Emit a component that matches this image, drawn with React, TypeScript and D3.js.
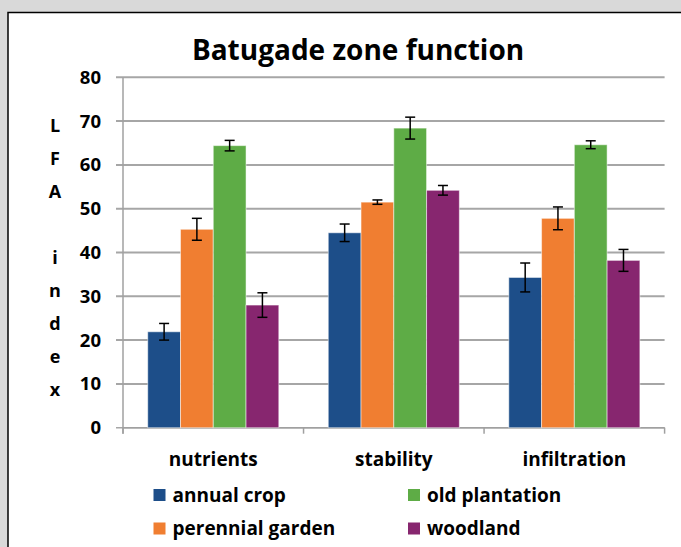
import React from 'react';
import * as d3 from 'd3';

// chart values
const categories = ['nutrients', 'stability', 'infiltration'];
const seriesNames = ['annual crop', 'perennial garden', 'old plantation', 'woodland'];
const annualCrop = [21.9, 44.5, 34.3];
const perennialGarden = [45.3, 51.5, 47.8];
const oldPlantation = [64.4, 68.4, 64.6];
const woodland = [28.0, 54.2, 38.2];
const annualCropErr = [1.9, 2.0, 3.3];
const perennialGardenErr = [2.5, 0.5, 2.6];
const oldPlantationErr = [1.2, 2.5, 0.9];
const woodlandErr = [2.8, 1.1, 2.5];
const yTicks = [0, 10, 20, 30, 40, 50, 60, 70, 80];
const yLabelLetters = ['L', 'F', 'A', '', 'i', 'n', 'd', 'e', 'x'];

const colors = ['#1d4e89', '#f07e31', '#5eac46', '#87266f'];
const values = [annualCrop, perennialGarden, oldPlantation, woodland];
const errors = [annualCropErr, perennialGardenErr, oldPlantationErr, woodlandErr];

const W = 681;
const H = 547;
const font = '"Open Sans", sans-serif';

// plot area
const plot = { left: 123, right: 664.6, top: 77.3, bottom: 427.7 };

const App = () => {
  const y = d3.scaleLinear().domain([0, 80]).range([plot.bottom, plot.top]);
  const p = 0.274;
  const x = d3
    .scaleBand<string>()
    .domain(categories)
    .range([plot.left, plot.right])
    .paddingInner(p)
    .paddingOuter(p / 2);
  const xs = d3
    .scaleBand<string>()
    .domain(seriesNames)
    .range([0, x.bandwidth()]);

  const step = x.step();
  const boundaries = d3.range(categories.length + 1).map(i => plot.left + i * step);

  return (
    <div style={{ position: 'absolute', left: 0, top: 0 }}>
      <svg width={W} height={H} style={{ display: 'block' }}>
        <rect x={0} y={0} width={W} height={H} fill="#d9d9d9" />
        <rect x={8} y={12.5} width={W + 10} height={H} fill="#fff" stroke="#000" strokeWidth={1.5} />

        <text x={358} y={59.5} textAnchor="middle" fontFamily={font} fontWeight={700} fontSize={28} fill="#000">
          Batugade zone function
        </text>

        {/* gridlines + ticks */}
        {yTicks.map(t => (
          <g key={t}>
            <line x1={116} x2={plot.right} y1={y(t)} y2={y(t)} stroke="#a6a6a6" strokeWidth={t === 0 ? 1.5 : 2} />
            <text x={101} y={y(t) + 6.5} textAnchor="end" fontFamily={font} fontWeight={700} fontSize={18.5} fill="#000">
              {t}
            </text>
          </g>
        ))}
        <line x1={plot.left} x2={plot.left} y1={plot.top} y2={plot.bottom + 6} stroke="#a0a0a0" strokeWidth={1.5} />
        <line x1={plot.left} x2={plot.right} y1={plot.bottom} y2={plot.bottom} stroke="#a0a0a0" strokeWidth={1.5} />
        {boundaries.map((bx, i) => (
          <line key={i} x1={bx} x2={bx} y1={plot.bottom} y2={plot.bottom + 6} stroke="#a0a0a0" strokeWidth={1.5} />
        ))}

        {/* y axis title, stacked letters */}
        {yLabelLetters.map((l, i) => (
          <text key={i} x={55} y={131.5 + i * 33} textAnchor="middle" fontFamily={font} fontWeight={700} fontSize={18} fill="#000">
            {l}
          </text>
        ))}

        {/* bars */}
        {categories.map((c, ci) => (
          <g key={c} transform={`translate(${x(c)},0)`}>
            {seriesNames.map((s, si) => {
              const v = values[si][ci];
              const e = errors[si][ci];
              const bx = xs(s) as number;
              const cx = bx + xs.bandwidth() / 2;
              return (
                <g key={s}>
                  <rect
                    x={bx}
                    y={y(v)}
                    width={xs.bandwidth()}
                    height={y(0) - y(v)}
                    fill={colors[si]}
                    stroke="#ffffff"
                    strokeOpacity={0.5}
                    strokeWidth={1}
                  />
                  <line x1={cx} x2={cx} y1={y(v + e)} y2={y(v - e)} stroke="#000" strokeWidth={1.5} />
                  <line x1={cx - 5} x2={cx + 5} y1={y(v + e)} y2={y(v + e)} stroke="#000" strokeWidth={1.5} />
                  <line x1={cx - 5} x2={cx + 5} y1={y(v - e)} y2={y(v - e)} stroke="#000" strokeWidth={1.5} />
                </g>
              );
            })}
          </g>
        ))}

        {/* category labels */}
        {categories.map(c => (
          <text
            key={c}
            x={(x(c) as number) + x.bandwidth() / 2}
            y={465.5}
            textAnchor="middle"
            fontFamily={font}
            fontWeight={700}
            fontSize={19}
            fill="#000"
          >
            {c}
          </text>
        ))}

        {/* legend */}
        {seriesNames.map((s, i) => {
          const col = i < 2 ? 0 : 1;
          const row = i % 2;
          const lx = col === 0 ? 153.5 : 408;
          const ly = row === 0 ? 489 : 522.5;
          return (
            <g key={s}>
              <rect x={lx} y={ly} width={12} height={12} fill={colors[i]} />
              <text x={lx + 19} y={ly + 12.5} fontFamily={font} fontWeight={700} fontSize={19} fill="#000">
                {s}
              </text>
            </g>
          );
        })}
      </svg>
    </div>
  );
};

export default App;
